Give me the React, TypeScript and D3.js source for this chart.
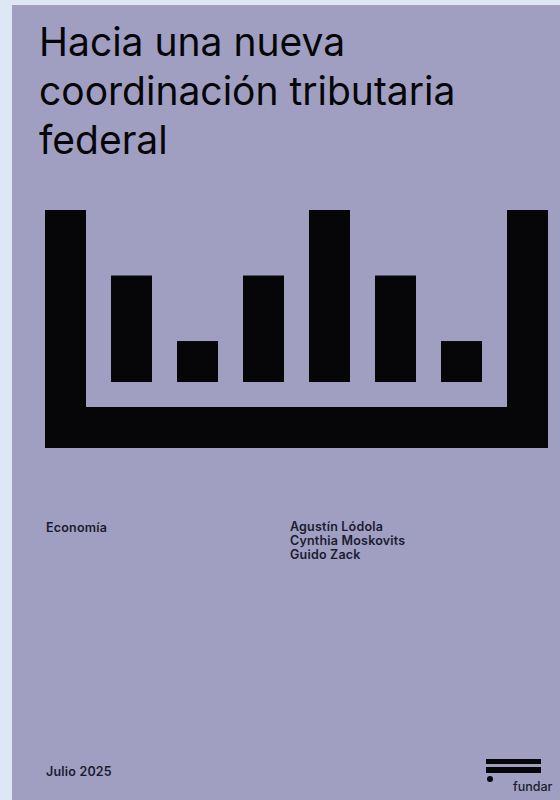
import * as d3 from 'd3'

// bar heights in the cover graphic (relative units)
const bars = ['b1', 'b2', 'b3', 'b4', 'b5', 'b6']
const values = [2.6, 1, 2.6, 4.2, 2.6, 1]
const frameMax = 4.2

const titleLines = ['Hacia una nueva', 'coordinación tributaria', 'federal']
const topic = 'Economía'
const authors = ['Agustín Lódola', 'Cynthia Moskovits', 'Guido Zack']
const dateLabel = 'Julio 2025'
const brand = 'fundar'

const W = 560
const H = 800
const BG = '#dde8f4'
const COVER = '#a09fc2'
const INK = '#060609'
const TEXT = '#1b1b30'

export default function App() {
  const x = d3
    .scaleBand<string>()
    .domain(bars)
    .range([86, 507])
    .paddingInner(0.379)
    .paddingOuter(0.379)
  const bw = x.bandwidth()
  const gap = x.step() * x.paddingInner()

  const y = d3.scaleLinear().domain([0, frameMax]).range([382, 210])
  const base = y(0)
  const frameBottom = base + gap + bw
  const left0 = x.range()[0]
  const right0 = x.range()[1]

  return (
    <div style={{ position: 'fixed', left: 0, top: 0, width: W, height: H }}>
      <svg width={W} height={H} style={{ display: 'block' }}>
        <rect x={0} y={0} width={W} height={H} fill={BG} />
        <rect x={12} y={5} width={W - 12} height={H - 5} fill={COVER} />

        <g fontFamily="Inter, sans-serif" fill={INK} fontSize={39}>
          {titleLines.map((t, i) => (
            <text key={t} x={39} y={56 + i * 49}>
              {t}
            </text>
          ))}
        </g>

        {/* frame: left post, right post, base */}
        <g fill={INK}>
          <rect x={left0 - bw} y={y(frameMax)} width={bw} height={frameBottom - y(frameMax)} />
          <rect x={right0} y={y(frameMax)} width={bw} height={frameBottom - y(frameMax)} />
          <rect x={left0 - bw} y={base + gap} width={right0 - left0 + 2 * bw} height={bw} />
          {values.map((v, i) => (
            <rect key={bars[i]} x={x(bars[i])} y={y(v)} width={bw} height={base - y(v)} />
          ))}
        </g>

        <g fontFamily="Inter, sans-serif" fontWeight={600} fontSize={12.5} fill={TEXT} letterSpacing={0.2}>
          <text x={46} y={532}>{topic}</text>
          {authors.map((a, i) => (
            <text key={a} x={290} y={531 + i * 14}>
              {a}
            </text>
          ))}
          <text x={46} y={776}>{dateLabel}</text>
        </g>

        {/* logo */}
        <g fill={INK}>
          <rect x={486} y={759} width={55} height={5} />
          <rect x={486} y={767} width={55} height={6} />
          <circle cx={490} cy={779} r={3} />
          <text x={513} y={791} fontFamily="Inter, sans-serif" fontWeight={500} fontSize={12.5} fill={TEXT}>
            {brand}
          </text>
        </g>
      </svg>
    </div>
  )
}
